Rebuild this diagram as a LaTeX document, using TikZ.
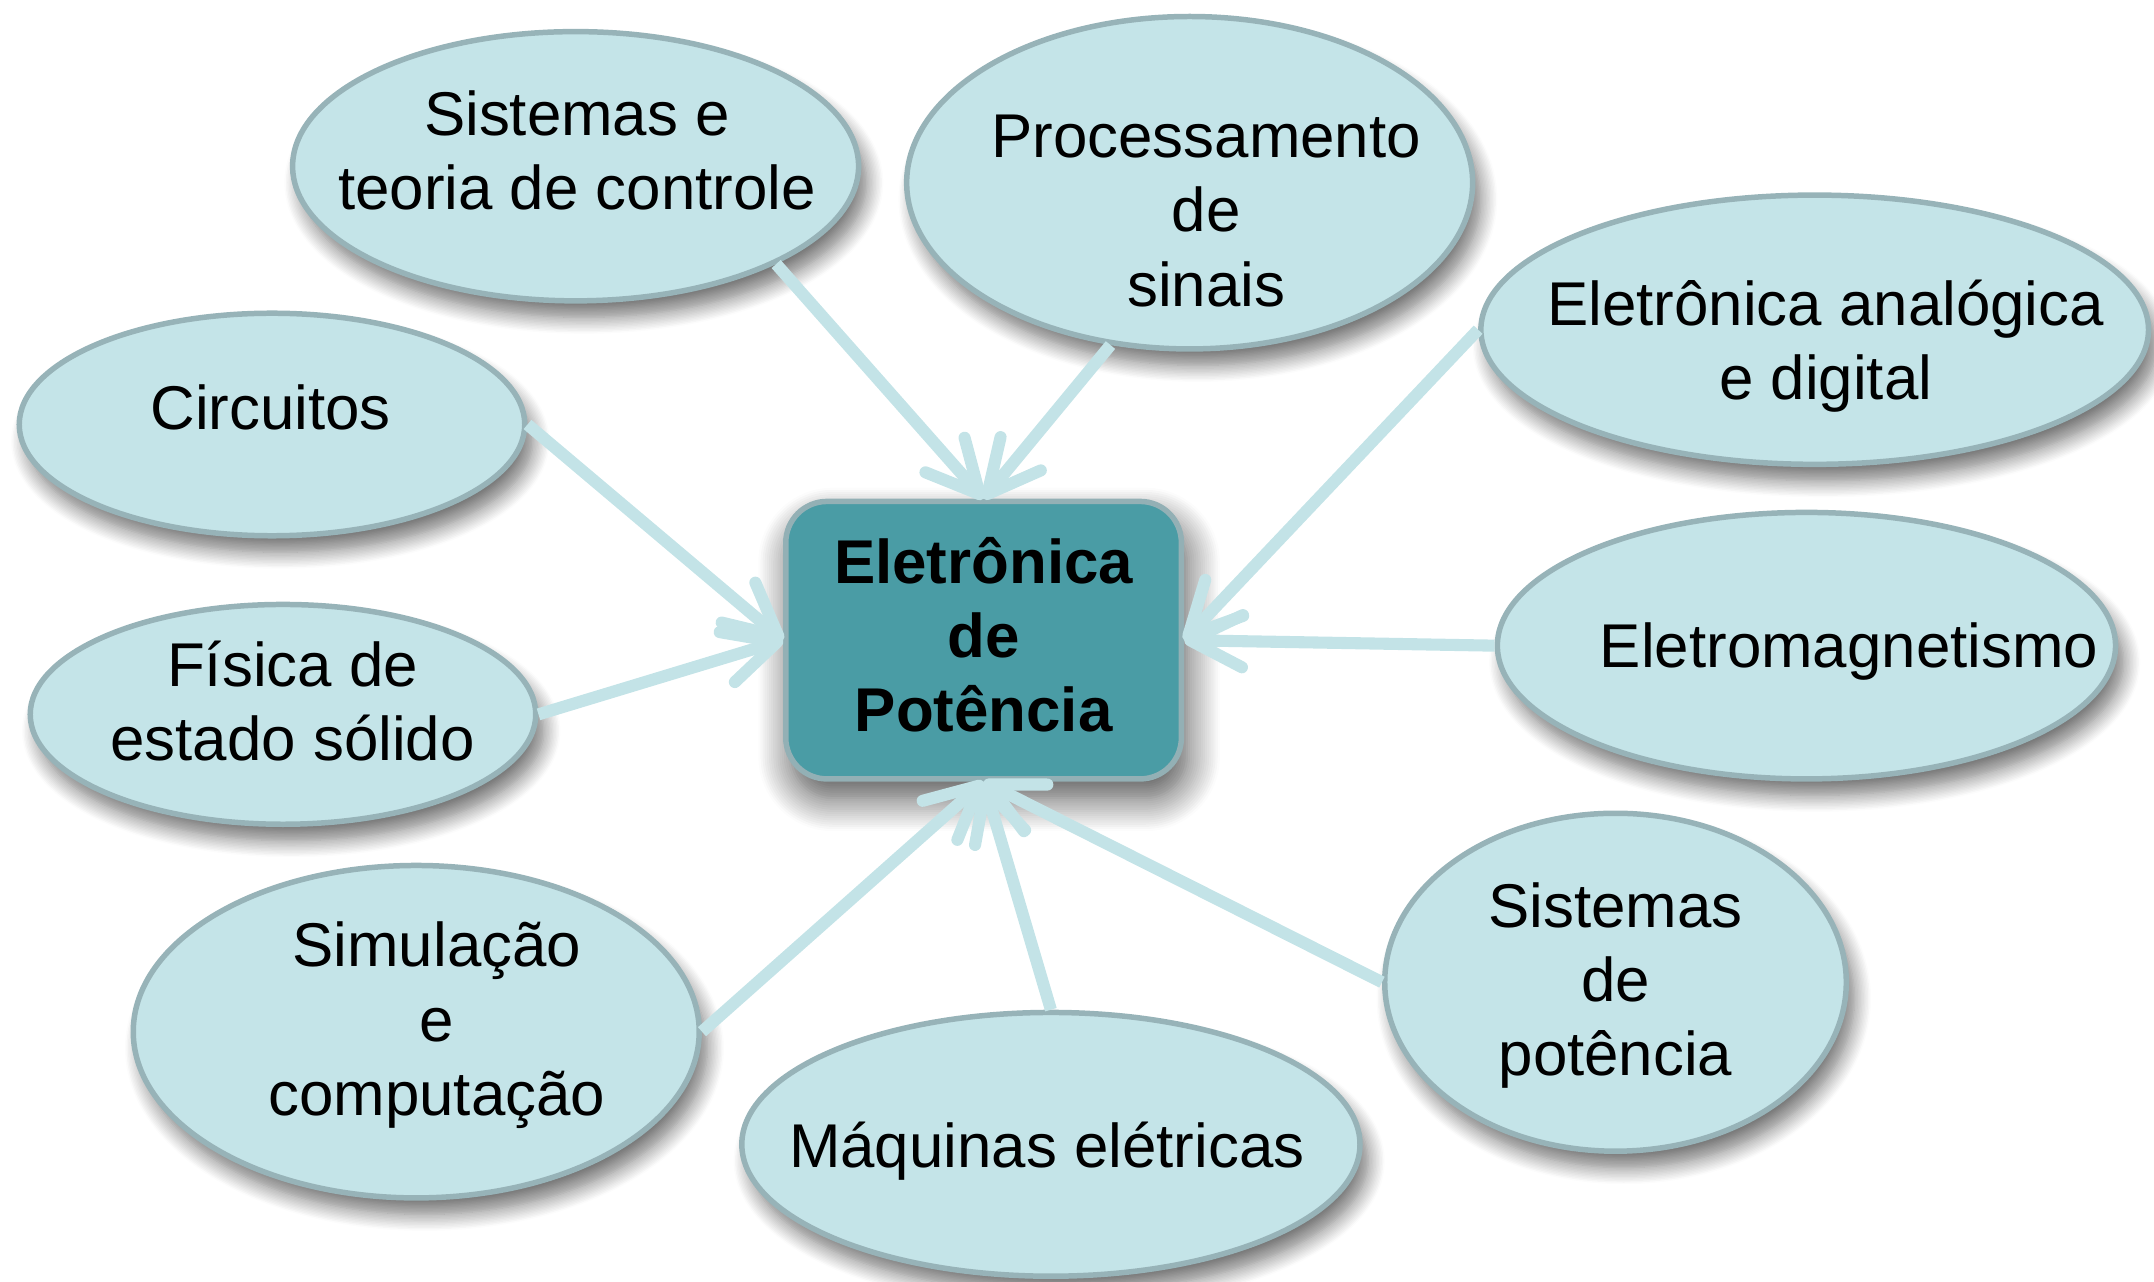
\documentclass[tikz,border=0pt]{standalone}
\usepackage{fontspec}
\setmainfont{Liberation Sans}
\usetikzlibrary{shapes.geometric,arrows.meta,shadows.blur}
\definecolor{elfill}{HTML}{C4E4E8}
\definecolor{eldraw}{HTML}{97B3B8}
\definecolor{boxfill}{HTML}{4A9CA5}
\definecolor{boxdraw}{HTML}{93B0B5}
\definecolor{conncol}{HTML}{C3E3E7}
\begin{document}
\begin{tikzpicture}[x=0.5pt,y=-0.5pt,
  softshadow/.style={blur shadow={shadow xshift=3pt,shadow yshift=-6pt,shadow blur radius=6pt,shadow blur steps=12,shadow opacity=55}},
  boxshadow/.style={blur shadow={shadow xshift=2pt,shadow yshift=-7pt,shadow blur radius=12pt,shadow blur steps=16,shadow opacity=70}},
  topic/.style={ellipse, draw=eldraw, line width=2pt, fill=elfill, inner sep=0pt, softshadow},
  lbl/.style={align=center, font=\fontsize{22.5}{27}\selectfont, inner sep=0pt},
  boldlbl/.style={align=center, font=\fontsize{22.5}{27}\selectfont\bfseries, inner sep=0pt},
  conn/.style={draw=conncol, line width=4.4pt, -{Straight Barb[length=19pt,width=19pt,round]}},
]
\useasboundingbox (0,0) rectangle (1568,933);

% topic ellipses
\node[topic, minimum width=206pt, minimum height=98pt]  (ctl) at (419,121) {};
\node[topic, minimum width=206pt, minimum height=121pt] (sig) at (866,133) {};
\node[topic, minimum width=243pt, minimum height=98pt]  (ana) at (1321,240) {};
\node[topic, minimum width=184pt, minimum height=81pt]  (cir) at (198,309) {};
\node[topic, minimum width=184pt, minimum height=80pt]  (fis) at (206,520) {};
\node[topic, minimum width=225pt, minimum height=97pt]  (mag) at (1315,470) {};
\node[topic, minimum width=206pt, minimum height=121pt] (sim) at (303,751) {};
\node[topic, minimum width=225pt, minimum height=96pt]  (maq) at (765,833) {};
\node[topic, minimum width=168pt, minimum height=123pt] (pot) at (1176,715) {};

% central box
\node[draw=boxdraw, line width=2pt, fill=boxfill, rounded corners=15pt,
      minimum width=144pt, minimum height=101pt, boxshadow] (box) at (716,466) {};

% labels
\node[lbl] (ctlt) at (420,115) {Sistemas e\strut\\teoria de controle\strut};
\node[lbl] (sigt) at (878,158) {Processamento\strut\\de\strut\\sinais\strut};
\node[lbl] (anat) at (1329,253) {Eletrônica analógica\strut\\e digital\strut};
\node[lbl] (cirt) at (197,302) {Circuitos\strut};
\node[lbl] (fist) at (213,516) {Física de\strut\\estado sólido\strut};
\node[lbl] (magt) at (1346,475) {Eletromagnetismo\strut};
\node[lbl] (simt) at (318,747) {Simulação\strut\\e\strut\\computação\strut};
\node[lbl] (maqt) at (762,839) {Máquinas elétricas\strut};
\node[lbl] (pott) at (1176,718) {Sistemas\strut\\de\strut\\potência\strut};
\node[boldlbl] (boxt) at (716,468) {Eletrônica\strut\\de\strut\\Potência\strut};

% connectors
\draw[conn] (ctl.-26) -- (box.north);
\draw[conn] (sig.-116) -- (box.north);
\draw[conn] (ana.west) -- (box.east);
\draw[conn] (mag.west) -- (box.east);
\draw[conn] (cir.east) -- (box.west);
\draw[conn] (fis.east) -- (box.west);
\draw[conn] (sim.east) -- (box.south);
\draw[conn] (maq.north) -- (box.south);
\draw[conn] (pot.west) -- (box.south);
\end{tikzpicture}
\end{document}
